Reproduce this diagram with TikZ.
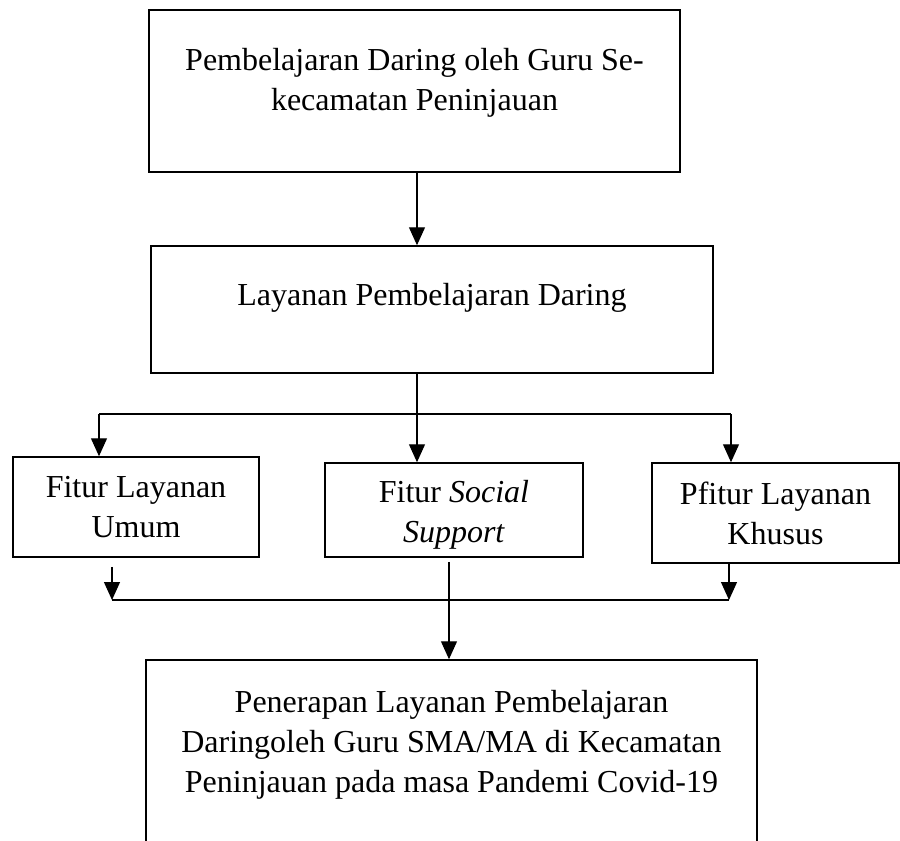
\documentclass[tikz,border=0pt]{standalone}
\usepackage{fontspec}
\setmainfont{Liberation Serif}
\usetikzlibrary{arrows.meta}
\tikzstyle{Box}=[draw,line width=0.75pt,rectangle,inner sep=0pt,align=center]
\tikzstyle{Txt}=[align=center,inner sep=0pt]
\tikzstyle{Edge}=[draw,line width=0.6pt]
\tikzstyle{Arrow}=[Edge,-{Triangle[length=9pt,width=8pt]}]

\begin{document}
\begin{tikzpicture}[x=0.5pt,y=-0.5pt,font=\fontsize{16}{20}\selectfont]
        \useasboundingbox(0,0)rectangle(900,841);
        \node[Box,minimum width=265.5pt,minimum height=81pt,
            label={[Txt,yshift=4pt]center:{Pembelajaran Daring oleh Guru Se-\\kecamatan Peninjauan}}](guru)at(414.5,91){};
        \node[Box,minimum width=281pt,minimum height=63.5pt,
            label={[Txt,yshift=5.75pt]center:{Layanan Pembelajaran Daring}}](layanan)at(432,309.5){};
        \node[Box,minimum width=123pt,minimum height=50pt](umum)at(136,507){Fitur Layanan\\Umum};
        \node[Box,minimum width=129pt,minimum height=47pt,
            label={[Txt,yshift=-2.5pt]center:{Fitur \textit{Social}\\\textit{Support}}}](social)at(454,510){};
        \node[Box,minimum width=123.5pt,minimum height=50pt](khusus)at(775.5,513){Pfitur Layanan\\Khusus};
        \node[Box,minimum width=305.5pt,minimum height=105pt,
            label={[Txt,yshift=10pt]center:{Penerapan Layanan Pembelajaran\\Daringoleh Guru SMA/MA di Kecamatan\\Peninjauan pada masa Pandemi Covid-19}}](penerapan)at(451.5,765){};
        \coordinate(split)at(417,414);
        \coordinate(busL)at(99,414);
        \coordinate(busR)at(731,414);
        \coordinate(joinL)at(112,600);
        \coordinate(joinR)at(729,600);
        \coordinate(join)at(449,600);
        \draw[Arrow](guru.south-|split)--(layanan.north-|split);
        \draw[Edge](layanan.south-|split)--(split);
        \draw[Edge](busL)--(busR);
        \draw[Arrow](split)--(social.north-|split);
        \draw[Arrow](busL)--(umum.north-|busL);
        \draw[Arrow](busR)--(khusus.north-|busR);
        \draw[Arrow]([yshift=-4.5pt]umum.south-|joinL)--(joinL);
        \draw[Arrow](khusus.south-|joinR)--(joinR);
        \draw[Edge](joinL)--(joinR);
        \draw[Arrow]([yshift=-2pt]social.south-|join)--(penerapan.north-|join);
    \end{tikzpicture}
\end{document}
